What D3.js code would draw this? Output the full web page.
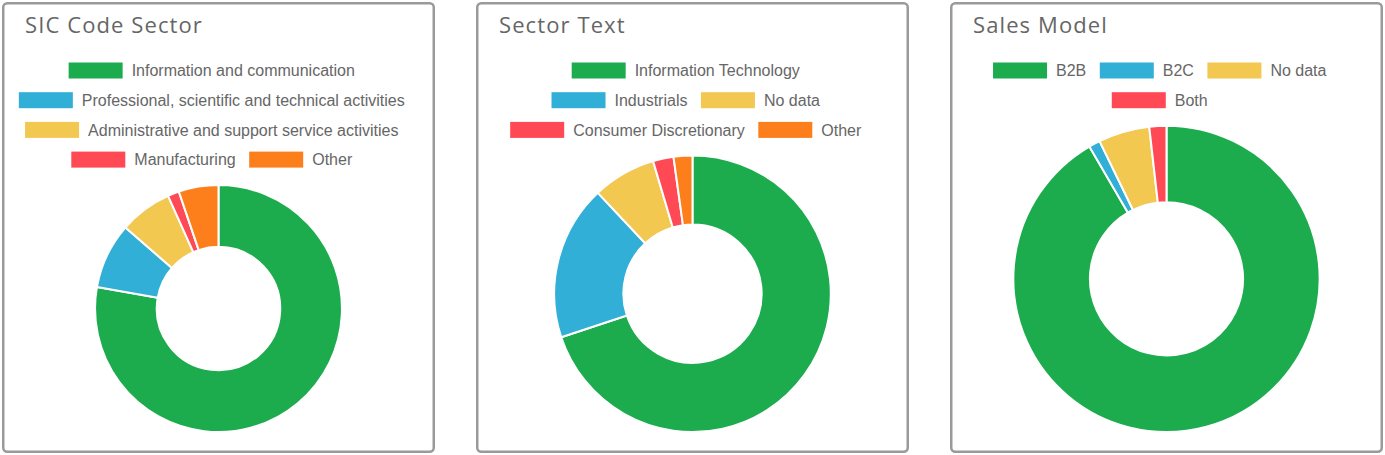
<!DOCTYPE html>
<html>
<head>
<meta charset="utf-8">
<script src="https://cdn.jsdelivr.net/npm/d3@7"></script>
<style>
  html, body { margin: 0; padding: 0; background: #fff; }
  svg { display: block; }
</style>
</head>
<body>
<script>
// data (percent of companies)
const sicLabels = ["Information and communication", "Professional, scientific and technical activities",
  "Administrative and support service activities", "Manufacturing", "Other"];
const sicValues = [77.8, 8.6, 6.9, 1.5, 5.2];

const sectorLabels = ["Information Technology", "Industrials", "No data", "Consumer Discretionary", "Other"];
const sectorValues = [69.9, 18.1, 7.4, 2.4, 2.2];

const salesLabels = ["B2B", "B2C", "No data", "Both"];
const salesValues = [91.6, 1.2, 5.4, 1.8];

const titles = ["SIC Code Sector", "Sector Text", "Sales Model"];

const colors = ["#1cac4e", "#31afd6", "#f2c851", "#ff4a55", "#fd7f1c"];

const charts = [
  { title: titles[0], labels: sicLabels, values: sicValues },
  { title: titles[1], labels: sectorLabels, values: sectorValues },
  { title: titles[2], labels: salesLabels, values: salesValues }
];

const W = 1385, H = 455;
const panelW = 433, panelH = 451, panelStep = 474;

const svg = d3.select("body").append("svg")
  .attr("width", W)
  .attr("height", H);

// hidden text to measure legend labels
const measure = svg.append("text")
  .style("font-family", "'Liberation Sans', Arial, sans-serif")
  .style("font-size", "16px")
  .attr("visibility", "hidden");
function textW(s) {
  measure.text(s);
  return measure.node().getComputedTextLength();
}

const boxW = 54, boxH = 16, boxGap = 9, itemPad = 13.5, maxRow = 380;
const rowTop = 68.5, rowStep = 29.7;

charts.forEach((c, k) => {
  const x0 = 2 + k * panelStep;
  const g = svg.append("g").attr("transform", "translate(" + x0 + ",2)");

  g.append("rect")
    .attr("x", 1.25).attr("y", 1.25)
    .attr("width", panelW - 2.5).attr("height", panelH - 2.5)
    .attr("rx", 4)
    .attr("fill", "#fff")
    .attr("stroke", "#9a9a9a")
    .attr("stroke-width", 2.5);

  g.append("text")
    .text(c.title)
    .attr("x", 23)
    .attr("y", 31)
    .style("font-family", "'Open Sans', sans-serif")
    .style("font-size", "22px")
    .style("letter-spacing", "1.1px")
    .style("fill", "#666");

  // legend rows (wrap like chart.js)
  const items = c.labels.map((l, i) => ({ label: l, color: colors[i], w: boxW + boxGap + textW(l) + itemPad }));
  const rows = [];
  let cur = [], curW = 0;
  items.forEach(it => {
    if (cur.length && curW + it.w > maxRow) { rows.push(cur); cur = []; curW = 0; }
    cur.push(it); curW += it.w;
  });
  rows.push(cur);

  const cx = panelW / 2;
  rows.forEach((row, r) => {
    const tot = d3.sum(row, d => d.w);
    let x = cx - tot / 2;
    const yc = rowTop + r * rowStep;
    row.forEach(it => {
      g.append("rect")
        .attr("x", x).attr("y", yc - boxH / 2)
        .attr("width", boxW).attr("height", boxH)
        .attr("fill", it.color);
      g.append("text")
        .text(it.label)
        .attr("x", x + boxW + boxGap)
        .attr("y", yc)
        .attr("dy", "0.35em")
        .style("font-family", "'Liberation Sans', Arial, sans-serif")
        .style("font-size", "16px")
        .style("fill", "#666");
      x += it.w;
    });
  });

  // doughnut fills space between legend and bottom
  const top = rowTop + (rows.length - 1) * rowStep + 25.5;
  const bottom = 430;
  const r = (bottom - top) / 2;
  const cy = top + r;

  const pie = d3.pie().sort(null).value(d => d);
  const arc = d3.arc().innerRadius(r * 0.5).outerRadius(r);

  g.append("g")
    .attr("transform", "translate(" + cx + "," + cy + ")")
    .selectAll("path")
    .data(pie(c.values))
    .enter()
    .append("path")
    .attr("d", arc)
    .attr("fill", (d, i) => colors[i])
    .attr("stroke", "#fff")
    .attr("stroke-width", 2)
    .attr("stroke-linejoin", "round");
});

measure.remove();
</script>
</body>
</html>
